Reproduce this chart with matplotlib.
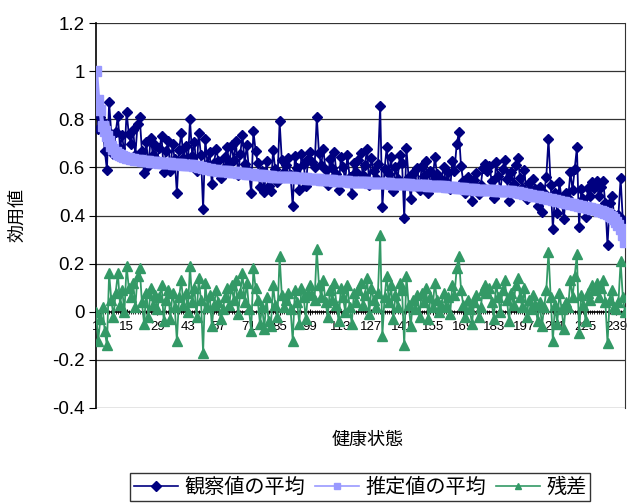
import matplotlib
matplotlib.use("Agg")
import matplotlib.pyplot as plt
from matplotlib.ticker import FixedLocator

plt.rcParams['font.family'] = ['Liberation Sans', 'Noto Sans CJK JP']

series_names = ["観察値の平均", "推定値の平均", "残差"]
x_label = "健康状態"
y_label = "効用値"

estimated = [
    1.000, 0.880, 0.840, 0.770, 0.750, 0.730, 0.710, 0.690, 0.675, 0.665,
    0.655, 0.650, 0.646, 0.643, 0.640, 0.638, 0.636, 0.634, 0.632, 0.630,
    0.629, 0.628, 0.627, 0.626, 0.625, 0.624, 0.623, 0.622, 0.621, 0.620,
    0.619, 0.619, 0.618, 0.618, 0.617, 0.616, 0.615, 0.614, 0.613, 0.612,
    0.611, 0.610, 0.610, 0.609, 0.608, 0.606, 0.604, 0.602, 0.600, 0.598,
    0.596, 0.594, 0.592, 0.590, 0.589, 0.588, 0.587, 0.586, 0.585, 0.584,
    0.583, 0.582, 0.581, 0.580, 0.579, 0.578, 0.577, 0.576, 0.575, 0.574,
    0.573, 0.572, 0.571, 0.570, 0.569, 0.568, 0.567, 0.566, 0.565, 0.564,
    0.563, 0.562, 0.562, 0.561, 0.561, 0.560, 0.560, 0.559, 0.559, 0.558,
    0.558, 0.557, 0.556, 0.556, 0.555, 0.554, 0.554, 0.553, 0.552, 0.552,
    0.551, 0.550, 0.550, 0.549, 0.548, 0.548, 0.547, 0.546, 0.546, 0.545,
    0.544, 0.544, 0.543, 0.543, 0.542, 0.542, 0.541, 0.541, 0.540, 0.540,
    0.540, 0.539, 0.539, 0.538, 0.538, 0.537, 0.537, 0.536, 0.536, 0.535,
    0.535, 0.534, 0.534, 0.533, 0.533, 0.532, 0.532, 0.531, 0.531, 0.530,
    0.530, 0.530, 0.529, 0.529, 0.528, 0.528, 0.527, 0.527, 0.526, 0.526,
    0.525, 0.525, 0.524, 0.524, 0.523, 0.523, 0.522, 0.522, 0.521, 0.521,
    0.520, 0.520, 0.519, 0.518, 0.517, 0.516, 0.515, 0.514, 0.513, 0.512,
    0.511, 0.510, 0.510, 0.509, 0.508, 0.508, 0.507, 0.506, 0.506, 0.505,
    0.505, 0.504, 0.504, 0.503, 0.503, 0.502, 0.502, 0.501, 0.501, 0.500,
    0.500, 0.499, 0.498, 0.497, 0.495, 0.493, 0.491, 0.489, 0.487, 0.485,
    0.483, 0.481, 0.479, 0.477, 0.475, 0.473, 0.471, 0.469, 0.467, 0.465,
    0.463, 0.461, 0.459, 0.457, 0.455, 0.453, 0.451, 0.449, 0.447, 0.445,
    0.443, 0.441, 0.439, 0.437, 0.435, 0.433, 0.431, 0.429, 0.426, 0.423,
    0.420, 0.417, 0.414, 0.410, 0.406, 0.400, 0.392, 0.384, 0.375, 0.362,
    0.345, 0.320, 0.290,
]

residual = [
    0.00, -0.12, -0.03, 0.02, -0.08, -0.14, 0.16, 0.05, -0.02, 0.08,
    0.16, 0.03, 0.09, 0.00, 0.19, 0.10, 0.06, 0.12, 0.02, 0.15,
    0.18, 0.04, -0.05, 0.08, -0.02, 0.10, 0.03, 0.07, 0.01, 0.06,
    0.11, -0.04, 0.05, 0.09, -0.03, 0.08, 0.02, -0.12, 0.06, 0.13,
    0.03, 0.08, 0.00, 0.19, 0.04, 0.10, -0.02, 0.14, 0.05, -0.17,
    0.12, 0.02, 0.07, -0.06, 0.03, 0.09, 0.04, -0.03, 0.01, 0.06,
    0.10, 0.03, 0.11, 0.05, 0.13, -0.01, 0.08, 0.16, 0.04, 0.12,
    0.01, -0.08, 0.18, 0.10, 0.05, -0.05, 0.02, -0.07, 0.06, -0.04,
    -0.06, 0.11, 0.03, -0.02, 0.23, 0.07, 0.02, 0.05, 0.08, 0.01,
    -0.12, 0.09, 0.04, -0.05, 0.10, 0.06, -0.03, 0.08, 0.11, 0.07,
    0.05, 0.26, 0.11, 0.06, 0.13, 0.04, -0.02, 0.09, 0.05, 0.12,
    0.03, -0.04, 0.10, 0.06, 0.00, 0.11, 0.02, -0.05, 0.08, 0.04,
    0.09, 0.12, 0.03, 0.07, 0.14, -0.01, 0.10, 0.05, 0.02, 0.08,
    0.32, -0.10, 0.06, 0.15, 0.04, 0.11, -0.03, 0.07, 0.02, 0.12,
    0.09, -0.14, 0.15, 0.03, -0.06, 0.05, 0.01, 0.07, -0.02, 0.08,
    0.04, 0.10, -0.03, 0.06, 0.02, 0.12, 0.05, 0.00, 0.03, 0.08,
    0.02, 0.06, -0.01, 0.11, 0.07, 0.18, 0.23, 0.09, 0.03, -0.02,
    0.05, 0.01, -0.05, 0.04, 0.07, -0.02, 0.02, 0.09, 0.11, 0.08,
    0.10, 0.04, -0.03, 0.12, 0.06, 0.00, 0.09, 0.13, 0.05, -0.04,
    0.08, 0.03, 0.11, 0.14, 0.06, 0.02, 0.10, -0.02, 0.05, 0.01,
    0.07, 0.03, -0.04, 0.04, -0.06, 0.02, 0.09, 0.25, 0.06, -0.12,
    0.03, -0.05, 0.08, 0.01, -0.07, 0.04, 0.02, 0.13, 0.06, 0.15,
    0.24, -0.09, 0.07, 0.03, -0.04, 0.08, 0.05, 0.11, 0.09, 0.12,
    0.06, 0.10, 0.13, 0.04, -0.13, 0.05, 0.09, 0.02, 0.01, 0.04,
    0.21, 0.06, 0.00,
]

observed = [
    1.000, 0.760, 0.810, 0.790, 0.670, 0.590, 0.870, 0.740, 0.655, 0.745,
    0.815, 0.680, 0.736, 0.643, 0.830, 0.738, 0.696, 0.754, 0.652, 0.780,
    0.809, 0.668, 0.577, 0.706, 0.605, 0.724, 0.653, 0.692, 0.631, 0.680,
    0.729, 0.579, 0.668, 0.708, 0.587, 0.696, 0.635, 0.494, 0.673, 0.742,
    0.641, 0.690, 0.610, 0.799, 0.648, 0.706, 0.584, 0.742, 0.650, 0.428,
    0.716, 0.614, 0.662, 0.530, 0.619, 0.678, 0.627, 0.556, 0.595, 0.644,
    0.683, 0.612, 0.691, 0.630, 0.709, 0.568, 0.657, 0.736, 0.615, 0.694,
    0.583, 0.492, 0.751, 0.670, 0.619, 0.518, 0.587, 0.496, 0.625, 0.524,
    0.503, 0.672, 0.592, 0.541, 0.791, 0.630, 0.580, 0.609, 0.639, 0.568,
    0.438, 0.647, 0.596, 0.506, 0.655, 0.614, 0.524, 0.633, 0.662, 0.622,
    0.601, 0.810, 0.660, 0.609, 0.678, 0.588, 0.527, 0.636, 0.596, 0.665,
    0.574, 0.504, 0.643, 0.603, 0.542, 0.652, 0.561, 0.491, 0.620, 0.580,
    0.630, 0.659, 0.569, 0.608, 0.678, 0.527, 0.637, 0.586, 0.556, 0.615,
    0.855, 0.434, 0.594, 0.683, 0.573, 0.642, 0.502, 0.601, 0.551, 0.650,
    0.620, 0.390, 0.679, 0.559, 0.468, 0.578, 0.537, 0.597, 0.506, 0.606,
    0.565, 0.625, 0.494, 0.584, 0.543, 0.643, 0.572, 0.522, 0.551, 0.601,
    0.540, 0.580, 0.509, 0.628, 0.587, 0.696, 0.745, 0.604, 0.543, 0.492,
    0.561, 0.520, 0.460, 0.549, 0.578, 0.488, 0.527, 0.596, 0.616, 0.585,
    0.605, 0.544, 0.474, 0.623, 0.563, 0.502, 0.592, 0.631, 0.551, 0.460,
    0.580, 0.529, 0.608, 0.637, 0.555, 0.513, 0.591, 0.469, 0.537, 0.495,
    0.553, 0.511, 0.439, 0.517, 0.415, 0.493, 0.561, 0.719, 0.527, 0.345,
    0.493, 0.411, 0.539, 0.467, 0.385, 0.493, 0.471, 0.579, 0.507, 0.595,
    0.683, 0.351, 0.509, 0.467, 0.395, 0.513, 0.481, 0.539, 0.516, 0.543,
    0.480, 0.517, 0.544, 0.450, 0.276, 0.450, 0.482, 0.404, 0.385, 0.402,
    0.555, 0.380, 0.290,
]

categories = list(range(1, len(observed) + 1))
tick_labels = list(range(1, len(observed) + 1, 14))
y_ticks = [-0.4, -0.2, 0, 0.2, 0.4, 0.6, 0.8, 1.0, 1.2]
y_tick_labels = ["-0.4", "-0.2", "0", "0.2", "0.4", "0.6", "0.8", "1", "1.2"]

fig = plt.figure(figsize=(6.27, 5.03), dpi=100)
ax = fig.add_axes([96 / 627, 1 - 408 / 503, (625 - 96) / 627, (408 - 23) / 503])

l1, = ax.plot(categories, observed, color="#000080", lw=1.3, marker="D",
              markersize=5.5, markerfacecolor="#000080", markeredgecolor="#000080", zorder=3)
l2, = ax.plot(categories, estimated, color="#9999FF", lw=3, marker="s",
              markersize=7.5, markerfacecolor="#9999FF", markeredgecolor="#9999FF", zorder=4)
l3, = ax.plot(categories, residual, color="#339966", lw=1.3, marker="^",
              markersize=6.5, markerfacecolor="#339966", markeredgecolor="#339966", zorder=5)

ax.set_xlim(1, len(observed))
ax.set_ylim(-0.4, 1.2)

ax.set_yticks(y_ticks)
ax.set_yticklabels(y_tick_labels, fontsize=13.5)
for y in y_ticks:
    if y != 0:
        ax.axhline(y, color="#333333", lw=0.9, zorder=1)

ax.spines['top'].set_visible(False)
ax.spines['right'].set_color("#333333")
ax.spines['left'].set_color("black")
ax.spines['left'].set_linewidth(1.2)
ax.spines['bottom'].set_position(('data', 0))
ax.spines['bottom'].set_color("black")
ax.spines['bottom'].set_linewidth(1.2)
ax.spines['bottom'].set_zorder(2)

ax.xaxis.set_major_locator(FixedLocator(tick_labels))
ax.set_xticklabels([str(t) for t in tick_labels], fontsize=9.5)
ax.xaxis.set_minor_locator(FixedLocator(categories))
ax.tick_params(axis='x', which='major', direction='inout', length=4, pad=5)
ax.tick_params(axis='x', which='minor', direction='inout', length=3, width=0.6)
ax.tick_params(axis='y', which='major', direction='out', length=5, pad=3)

fig.text(18 / 627, 1 - 215 / 503, y_label, rotation=90, ha='center', va='center', fontsize=13)
fig.text(368 / 627, 1 - 440 / 503, x_label, ha='center', va='center', fontsize=13)

leg = fig.legend([l1, l2, l3], series_names, loc='center',
                 bbox_to_anchor=(360 / 627, 1 - 487 / 503), ncol=3,
                 fontsize=14.5, frameon=True, fancybox=False, edgecolor='black',
                 handlelength=2.2, handletextpad=0.3, columnspacing=0.5,
                 borderpad=0.2, borderaxespad=0)
leg.get_frame().set_linewidth(1.0)
for h in leg.legend_handles:
    h.set_markersize(5)
    h.set_linewidth(1.2)

fig.savefig("out.png", dpi=100)
